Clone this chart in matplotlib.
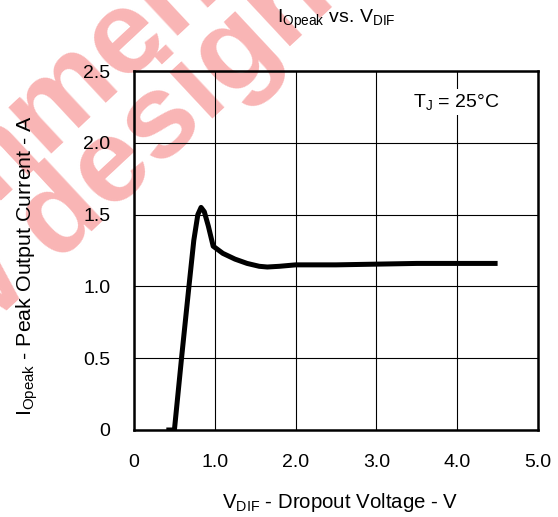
import matplotlib
matplotlib.use('Agg')
import matplotlib.pyplot as plt

plt.rcParams['font.family'] = 'Liberation Sans'
plt.rcParams['mathtext.fontset'] = 'custom'
plt.rcParams['mathtext.rm'] = 'Liberation Sans'
plt.rcParams['mathtext.it'] = 'Liberation Sans:italic'

# dropout voltage (V) and peak output current (A)
vdif = [0.40, 0.50, 0.59, 0.68, 0.74, 0.79, 0.83, 0.87, 0.92, 0.98,
        1.10, 1.25, 1.40, 1.55, 1.65, 1.80, 2.00, 2.50, 3.00, 3.50, 4.00, 4.50]
iopeak = [0.0, 0.0, 0.51, 1.00, 1.32, 1.50, 1.55, 1.52, 1.42, 1.28,
          1.23, 1.19, 1.16, 1.14, 1.135, 1.14, 1.15, 1.15, 1.155, 1.16, 1.16, 1.16]

xticks = [0, 1, 2, 3, 4, 5]
xticklabels = ['0', '1.0', '2.0', '3.0', '4.0', '5.0']
yticks = [0, 0.5, 1.0, 1.5, 2.0, 2.5]
yticklabels = ['0', '0.5', '1.0', '1.5', '2.0', '2.5']

W, H = 558, 517
fig = plt.figure(figsize=(W / 100, H / 100), dpi=100)


def px(x, y):
    # pixel position (top-left origin) -> figure fraction
    return x / W, 1 - y / H


# watermark behind everything
pink = '#f9b5b5'
fig.text(*px(-218, 397), 'recommended', rotation=43, rotation_mode='anchor',
         ha='left', va='baseline', fontsize=86, fontweight='bold',
         color=pink, zorder=-1)
fig.text(*px(-138, 446), 'new designs', rotation=43, rotation_mode='anchor',
         ha='left', va='baseline', fontsize=86, fontweight='bold',
         color=pink, zorder=-1)

l, b = px(134, 430)
r, t = px(538, 71)
ax = fig.add_axes([l, b, r - l, t - b])
ax.patch.set_alpha(0)

ax.plot(vdif, iopeak, color='black', lw=3.6, solid_joinstyle='round',
        solid_capstyle='butt', zorder=3)

ax.set_xlim(0, 5)
ax.set_ylim(0, 2.5)
ax.set_xticks(xticks)
ax.set_xticklabels(xticklabels)
ax.set_yticks(yticks)
ax.set_yticklabels(yticklabels)
ax.tick_params(length=0, labelsize=14, pad=17)
ax.grid(True, color='black', lw=0.8)
for s in ax.spines.values():
    s.set_linewidth(1.8)

fig.text(*px(499, 107), r'T$_\mathrm{J}$ = 25°C', ha='right', va='baseline',
         fontsize=14, bbox=dict(facecolor='white', edgecolor='none', pad=2))

fig.text(*px(336, 23), r'I$_\mathrm{Opeak}$ vs. V$_\mathrm{DIF}$',
         ha='center', va='baseline', fontsize=14)
fig.text(*px(340, 508), r'V$_\mathrm{DIF}$ - Dropout Voltage - V',
         ha='center', va='baseline', fontsize=14.7)
fig.text(*px(32, 265), r'I$_\mathrm{Opeak}$ - Peak Output Current - A',
         ha='center', va='baseline', fontsize=15.4, rotation=90,
         rotation_mode='anchor')

fig.savefig('out.png', dpi=100)
